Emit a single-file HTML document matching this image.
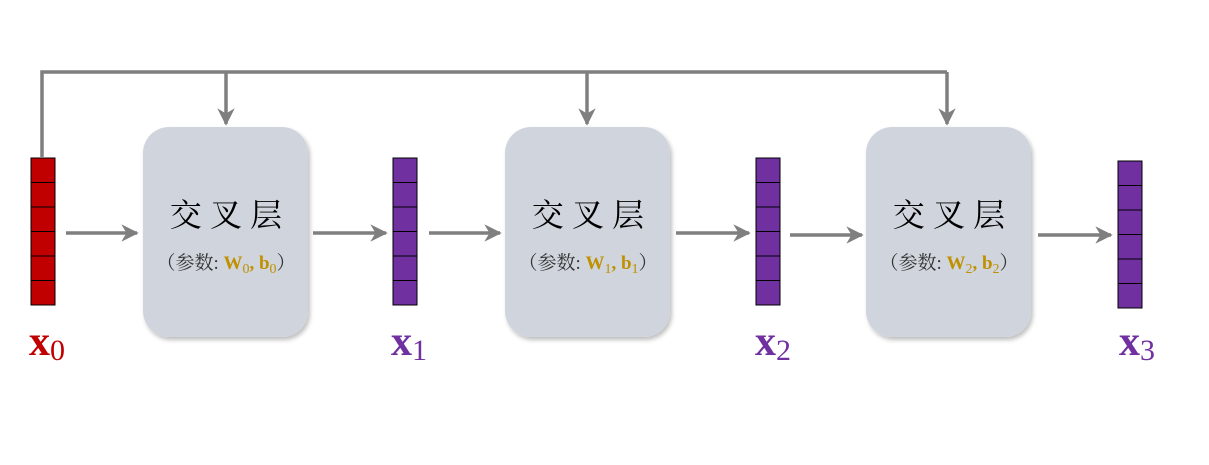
<!DOCTYPE html>
<html><head><meta charset="utf-8"><style>html,body{margin:0;padding:0;background:#fff;}</style></head><body>
<svg width="1209" height="460" xmlns="http://www.w3.org/2000/svg">
<defs>
<filter id="sh" x="-10%" y="-10%" width="125%" height="125%"><feDropShadow dx="2" dy="3" stdDeviation="2" flood-color="#000" flood-opacity="0.25"/></filter>
<marker id="ah" viewBox="0 0 10 10" refX="9" refY="5" markerWidth="5" markerHeight="5" markerUnits="strokeWidth" orient="auto"><path d="M0,0 L10,5 L0,10 L3,5 Z" fill="#7f7f7f"/></marker>
</defs>
<g stroke="#7f7f7f" stroke-width="3.5" fill="none">
<polyline points="42,157 42,72 947,72"/>
<line x1="226" y1="72" x2="226" y2="124" marker-end="url(#ah)"/>
<line x1="587" y1="72" x2="587" y2="124" marker-end="url(#ah)"/>
<line x1="947" y1="72" x2="947" y2="124" marker-end="url(#ah)"/>
<line x1="66" y1="233" x2="137" y2="233" marker-end="url(#ah)"/>
<line x1="313" y1="233" x2="386" y2="233" marker-end="url(#ah)"/>
<line x1="429" y1="233" x2="500" y2="233" marker-end="url(#ah)"/>
<line x1="676" y1="233" x2="749" y2="233" marker-end="url(#ah)"/>
<line x1="790" y1="235" x2="862" y2="235" marker-end="url(#ah)"/>
<line x1="1038" y1="235" x2="1111" y2="235" marker-end="url(#ah)"/>
</g>
<g filter="url(#sh)" fill="#d0d5dd">
<rect x="143" y="127" width="165" height="210" rx="26"/>
<rect x="505" y="127" width="165" height="210" rx="26"/>
<rect x="866" y="127" width="165" height="210" rx="26"/>
</g>
<g font-family="'Noto Serif CJK SC','Liberation Serif',serif" text-anchor="middle">
<text x="226" y="226" font-size="32" fill="#000">交 叉 层</text>
<text x="588" y="226" font-size="32" fill="#000">交 叉 层</text>
<text x="949" y="226" font-size="32" fill="#000">交 叉 层</text>
</g>
<g font-family="'Liberation Serif','Noto Serif CJK SC',serif" font-size="19" fill="#333" text-anchor="middle">
<text x="226" y="269">（参数: <tspan fill="#bf9000" font-weight="bold">W<tspan font-size="14" dy="4" font-weight="normal">0</tspan><tspan dy="-4">, b</tspan><tspan font-size="14" dy="4" font-weight="normal">0</tspan></tspan><tspan dy="-4">）</tspan></text>
<text x="588" y="269">（参数: <tspan fill="#bf9000" font-weight="bold">W<tspan font-size="14" dy="4" font-weight="normal">1</tspan><tspan dy="-4">, b</tspan><tspan font-size="14" dy="4" font-weight="normal">1</tspan></tspan><tspan dy="-4">）</tspan></text>
<text x="949" y="269">（参数: <tspan fill="#bf9000" font-weight="bold">W<tspan font-size="14" dy="4" font-weight="normal">2</tspan><tspan dy="-4">, b</tspan><tspan font-size="14" dy="4" font-weight="normal">2</tspan></tspan><tspan dy="-4">）</tspan></text>
</g>
<g stroke="#000" stroke-width="1">
<g fill="#c00000"><rect x="31" y="158" width="24" height="24.5"/><rect x="31" y="182.5" width="24" height="24.5"/><rect x="31" y="207" width="24" height="24.5"/><rect x="31" y="231.5" width="24" height="24.5"/><rect x="31" y="256" width="24" height="24.5"/><rect x="31" y="280.5" width="24" height="24.5"/></g>
<g fill="#7030a0">
<rect x="393" y="158" width="24" height="24.5"/><rect x="393" y="182.5" width="24" height="24.5"/><rect x="393" y="207" width="24" height="24.5"/><rect x="393" y="231.5" width="24" height="24.5"/><rect x="393" y="256" width="24" height="24.5"/><rect x="393" y="280.5" width="24" height="24.5"/>
<rect x="756" y="158" width="24" height="24.5"/><rect x="756" y="182.5" width="24" height="24.5"/><rect x="756" y="207" width="24" height="24.5"/><rect x="756" y="231.5" width="24" height="24.5"/><rect x="756" y="256" width="24" height="24.5"/><rect x="756" y="280.5" width="24" height="24.5"/>
<rect x="1118" y="161" width="24" height="24.5"/><rect x="1118" y="185.5" width="24" height="24.5"/><rect x="1118" y="210" width="24" height="24.5"/><rect x="1118" y="234.5" width="24" height="24.5"/><rect x="1118" y="259" width="24" height="24.5"/><rect x="1118" y="283.5" width="24" height="24.5"/>
</g></g>
<g font-family="'Liberation Serif',serif">
<text x="29" y="355" font-size="42" font-weight="bold" fill="#c00000">x<tspan font-weight="normal" font-size="30" dy="5">0</tspan></text>
<text x="391" y="355" font-size="42" font-weight="bold" fill="#7030a0">x<tspan font-weight="normal" font-size="30" dy="5">1</tspan></text>
<text x="755" y="355" font-size="42" font-weight="bold" fill="#7030a0">x<tspan font-weight="normal" font-size="30" dy="5">2</tspan></text>
<text x="1119" y="355" font-size="42" font-weight="bold" fill="#7030a0">x<tspan font-weight="normal" font-size="30" dy="5">3</tspan></text>
</g>
</svg>
</body></html>
